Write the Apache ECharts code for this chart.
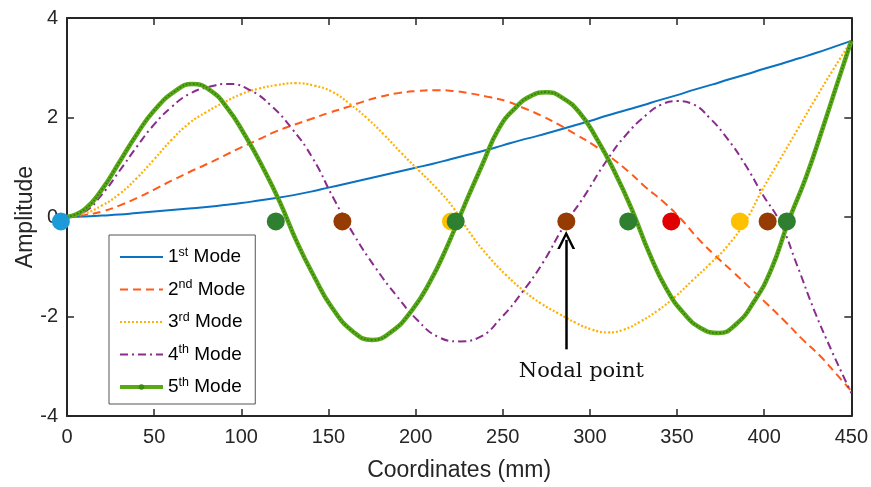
<!DOCTYPE html>
<html>
<head>
<meta charset="utf-8">
<script src="https://cdn.jsdelivr.net/npm/echarts@6/dist/echarts.min.js"></script>
<style>
  html, body { margin: 0; padding: 0; background: #fff; }
  #chart { width: 871px; height: 487px; }
</style>
</head>
<body>
<div id="chart"></div>
<script>
// sample positions (mm) and amplitudes read off each mode shape;
// each mode is sampled at its own peaks/troughs so the spline stays round
const x1 = [0, 10, 20, 30, 40, 50, 60, 70, 80, 90, 100, 110, 120, 130, 140, 150,
  160, 170, 180, 190, 200, 210, 220, 230, 240, 250, 260, 270, 280, 290, 300,
  310, 320, 330, 340, 350, 360, 370, 380, 390, 400, 410, 420, 430, 440, 450];
const mode1 = [0, 0.01, 0.03, 0.05, 0.08, 0.11, 0.14, 0.17, 0.2, 0.24, 0.28, 0.33, 0.38, 0.44, 0.51, 0.59,
  0.67, 0.75, 0.83, 0.91, 0.99, 1.07, 1.16, 1.25, 1.34, 1.44, 1.54, 1.63, 1.73, 1.83, 1.93,
  2.04, 2.14, 2.24, 2.35, 2.45, 2.56, 2.66, 2.77, 2.87, 2.98, 3.08, 3.19, 3.3, 3.42, 3.54];

const x2 = [0, 10, 20, 30, 40, 50, 60, 70, 80, 90, 100, 110, 120, 130, 140, 150, 160, 170, 180, 190, 200,
  211, 222, 232, 242, 252, 262, 272, 282, 292, 302, 312, 322, 332, 342, 352, 362, 372, 382, 392,
  402, 412, 422, 432, 442, 450];
const mode2 = [0, 0.04, 0.11, 0.23, 0.38, 0.55, 0.73, 0.9, 1.06, 1.23, 1.4, 1.56, 1.72, 1.85, 1.97, 2.09, 2.2, 2.32, 2.42, 2.49, 2.53,
  2.55, 2.53, 2.48, 2.41, 2.33, 2.19, 2.04, 1.86, 1.66, 1.45, 1.2, 0.92, 0.6, 0.31, -0.03, -0.43, -0.78, -1.1, -1.43,
  -1.76, -2.1, -2.46, -2.79, -3.18, -3.5];

const x3 = [0, 10, 20, 30, 40, 50, 60, 70, 80, 90, 100, 110, 120, 131, 142, 152, 162, 172, 182, 192,
  202, 212, 222, 232, 242, 252, 262, 272, 282, 292, 301, 310, 319, 329, 339, 349, 359, 369, 379, 389,
  399, 409, 419, 429, 439, 450];
const mode3 = [0, 0.07, 0.23, 0.46, 0.78, 1.16, 1.55, 1.88, 2.11, 2.3, 2.47, 2.58, 2.65, 2.69, 2.64, 2.52, 2.28, 1.99, 1.65, 1.28,
  0.93, 0.58, 0.17, -0.36, -0.8, -1.17, -1.48, -1.74, -1.94, -2.13, -2.26, -2.32, -2.27, -2.1, -1.88, -1.6, -1.27, -0.94, -0.58, -0.1,
  0.55, 1.15, 1.75, 2.35, 2.93, 3.54];

const x4 = [0, 10, 20, 30, 40, 50, 60, 70, 81, 93, 105, 117, 129, 141, 153, 165, 177, 189, 201, 213,
  225, 237, 249, 261, 273, 285, 297, 309, 321, 333, 341, 350, 359, 369, 379, 389, 399, 409, 419, 429,
  439, 450];
const mode4 = [0, 0.1, 0.45, 0.92, 1.41, 1.86, 2.21, 2.47, 2.61, 2.675, 2.55, 2.24, 1.78, 1.18, 0.37, -0.38, -1.02, -1.58, -2.07, -2.41,
  -2.5, -2.41, -2.03, -1.52, -0.92, -0.19, 0.43, 1.1, 1.66, 2.07, 2.26, 2.33, 2.27, 1.98, 1.57, 1.06, 0.46, -0.1, -0.98, -1.9,
  -2.71, -3.54];

const x5 = [0, 10, 20, 30, 40, 50, 62, 72, 82, 92, 102, 112, 122, 132, 142, 152, 164, 175, 186, 198,
  208, 218, 228, 238, 248, 258, 266, 275, 284, 294, 304, 314, 324, 334, 344, 354, 364, 374, 384, 394,
  404, 414, 424, 434, 442, 450];
const mode5 = [0, 0.15, 0.55, 1.1, 1.66, 2.14, 2.53, 2.675, 2.55, 2.19, 1.65, 1.02, 0.31, -0.51, -1.21, -1.82, -2.3, -2.47, -2.31, -1.87,
  -1.32, -0.6, 0.23, 1.03, 1.79, 2.22, 2.43, 2.51, 2.4, 2.1, 1.57, 0.92, 0.16, -0.72, -1.45, -1.94, -2.24, -2.33, -2.15, -1.71,
  -1.06, -0.08, 0.8, 1.83, 2.69, 3.54];

// nodal points (x positions), all drawn just under the zero line
const nodeY = -0.09;
const rootNode = [-3.5];
const mode2Nodes = [346.7];
const mode3Nodes = [220.3, 386];
const mode4Nodes = [158, 286.5, 402];
const mode5Nodes = [119.8, 223, 322, 413];

const modeNums = ['1', '2', '3', '4', '5'];
const modeSups = ['st', 'nd', 'rd', 'th', 'th'];
const modeNames = modeNums.map((n, i) => n + modeSups[i] + ' Mode');

// arrow + label for the nodal point
const arrowX = 286.4;
const arrowBottom = -2.66;
const arrowTop = -0.46;
const noteX = 295.1;
const noteY = -3.1;

const axisColor = '#262626';
const sans = 'Liberation Sans, Arial, sans-serif';

function pairs(xs, ys) {
  return xs.map((x, i) => [x, ys[i]]);
}

function nodeSeries(name, xs, color, extra) {
  return Object.assign({
    name: name,
    type: 'scatter',
    symbolSize: 18,
    clip: false,
    z: 5,
    itemStyle: { color: color, opacity: 1 },
    data: xs.map(x => [x, nodeY])
  }, extra || {});
}

const chart = echarts.init(document.getElementById('chart'));

const boxAxis = {
  axisLine: { show: true, onZero: false, lineStyle: { color: axisColor, width: 2 } },
  axisTick: { show: true, inside: true, length: 7, lineStyle: { color: axisColor, width: 1.5 } },
  splitLine: { show: false }
};

// only the 5th mode shows a marker dot (and a thick line) in the legend
const legendData = modeNames.map((name, i) => i === 4
  ? { name: name, itemStyle: { color: '#3a8a12', opacity: 1 }, lineStyle: { width: 4 } }
  : { name: name, itemStyle: { opacity: 0 } });

const option = {
  animation: false,
  backgroundColor: '#fff',
  grid: { left: 67, right: 18, top: 18, bottom: 70, containLabel: false },
  xAxis: [
    Object.assign({
      type: 'value', min: 0, max: 450, interval: 50, position: 'bottom',
      axisLabel: { fontSize: 20, color: axisColor, margin: 11, fontFamily: sans },
      name: 'Coordinates (mm)', nameLocation: 'middle', nameGap: 43, nameMoveOverlap: false,
      nameTextStyle: { fontSize: 23, color: axisColor, fontFamily: sans }
    }, boxAxis),
    Object.assign({
      type: 'value', min: 0, max: 450, interval: 50, position: 'top',
      axisLabel: { show: false }
    }, boxAxis)
  ],
  yAxis: [
    Object.assign({
      type: 'value', min: -4, max: 4, interval: 2, position: 'left',
      axisLabel: { fontSize: 20, color: axisColor, margin: 9, fontFamily: sans },
      name: 'Amplitude', nameLocation: 'middle', nameGap: 30, nameMoveOverlap: false,
      nameTextStyle: { fontSize: 23, color: axisColor, fontFamily: sans }
    }, boxAxis),
    Object.assign({
      type: 'value', min: -4, max: 4, interval: 2, position: 'right',
      axisLabel: { show: false }
    }, boxAxis)
  ],
  legend: {
    data: legendData,
    orient: 'vertical',
    left: 109,
    top: 235,
    padding: [11, 10, 6, 9],
    itemGap: 10.5,
    itemWidth: 43,
    itemHeight: 7,
    selectedMode: false,
    borderColor: '#555',
    borderWidth: 1,
    backgroundColor: '#fff',
    textStyle: {
      fontSize: 19,
      color: '#000',
      fontFamily: sans,
      lineHeight: 22,
      rich: {
        sup: { fontSize: 12.5, lineHeight: 12, verticalAlign: 'top', fontFamily: sans, color: '#000' }
      }
    },
    formatter: function (name) {
      const i = modeNames.indexOf(name);
      return modeNums[i] + '{sup|' + modeSups[i] + '} Mode';
    }
  },
  series: [
    {
      name: modeNames[0], type: 'line', data: pairs(x1, mode1), smooth: true,
      symbol: 'none', lineStyle: { color: '#0a72c0', width: 2 }, itemStyle: { color: '#0a72c0' }
    },
    {
      name: modeNames[1], type: 'line', data: pairs(x2, mode2), smooth: true,
      symbol: 'none', lineStyle: { color: '#ff5a1a', width: 2, type: [8, 5] }, itemStyle: { color: '#ff5a1a' }
    },
    {
      name: modeNames[2], type: 'line', data: pairs(x3, mode3), smooth: true,
      symbol: 'none', lineStyle: { color: '#ffb000', width: 2.2, type: [2, 2] }, itemStyle: { color: '#ffb000' }
    },
    {
      name: modeNames[3], type: 'line', data: pairs(x4, mode4), smooth: true,
      symbol: 'none', lineStyle: { color: '#8a2c8e', width: 2, type: [8, 4, 2, 4] }, itemStyle: { color: '#8a2c8e' }
    },
    {
      name: modeNames[4], type: 'line', data: pairs(x5, mode5), smooth: true,
      symbol: 'circle', symbolSize: 6, showSymbol: false,
      lineStyle: { color: '#58a818', width: 4.5 }, itemStyle: { color: '#3a8a12' }
    },
    {
      // dark marker texture along the 5th mode
      name: 'mode5-markers', type: 'line', data: pairs(x5, mode5), smooth: true,
      symbol: 'none', lineStyle: { color: '#2e7a0c', width: 1.6, type: [1.5, 2] }
    },
    nodeSeries('root', rootNode, '#1d9bd8', {
      markLine: {
        silent: true,
        symbol: ['none', 'path://M0,20 L10,0 L20,20 L17,20 L10,6 L3,20 Z'],
        symbolSize: [18, 18],
        lineStyle: { color: '#000', width: 2.5, type: 'solid' },
        label: { show: false },
        emphasis: { disabled: true },
        data: [[{ coord: [arrowX, arrowBottom] }, { coord: [arrowX, arrowTop] }]]
      },
      markPoint: {
        silent: true,
        symbol: 'circle',
        symbolSize: 1,
        itemStyle: { color: 'rgba(0,0,0,0)' },
        label: {
          show: true, position: 'inside', formatter: 'Nodal point',
          fontFamily: 'DejaVu Serif, serif', fontSize: 21, color: '#111'
        },
        data: [{ coord: [noteX, noteY] }]
      }
    }),
    nodeSeries('mode3-nodes', mode3Nodes, '#ffc000'),
    nodeSeries('mode4-nodes', mode4Nodes, '#963c02'),
    nodeSeries('mode2-nodes', mode2Nodes, '#e00000'),
    nodeSeries('mode5-nodes', mode5Nodes, '#2e8030')
  ]
};

chart.setOption(option);
</script>
</body>
</html>
